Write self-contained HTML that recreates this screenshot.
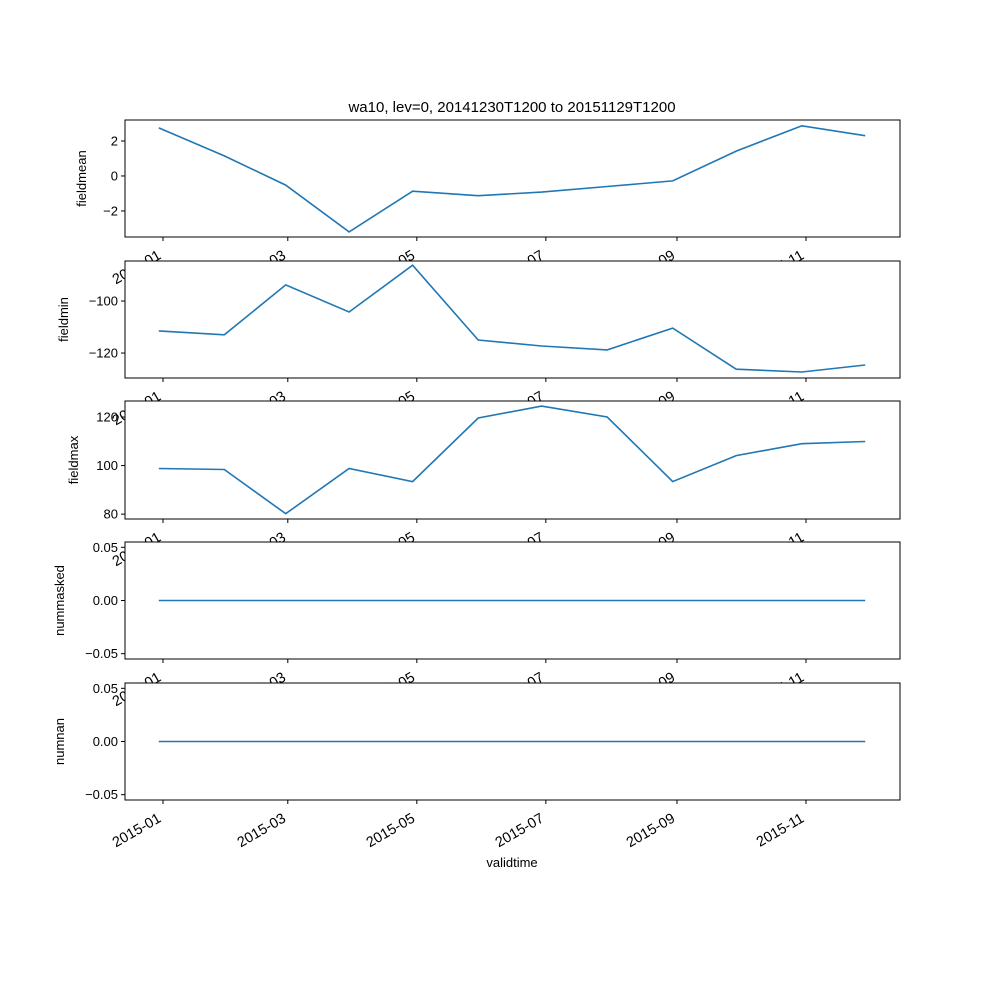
<!DOCTYPE html>
<html><head><meta charset="utf-8"><style>
html,body{margin:0;padding:0;background:#fff;}
svg{display:block;font-family:"Liberation Sans","DejaVu Sans",sans-serif;}
</style></head><body>
<svg id="chart" width="1000" height="1000" viewBox="0 0 1000 1000" xmlns="http://www.w3.org/2000/svg">
<rect width="1000" height="1000" fill="#fff"/>
<text x="512" y="112" font-size="15" text-anchor="middle">wa10, lev=0, 20141230T1200 to 20151129T1200</text>
<text x="512" y="867" font-size="13" text-anchor="middle">validtime</text>
</svg>
<script>
const dates = ["2014-12-30","2015-01-30","2015-02-28","2015-03-30","2015-04-29","2015-05-30","2015-06-29","2015-07-30","2015-08-30","2015-09-29","2015-10-30","2015-11-29"];
const fieldmean = [2.75,1.15,-0.52,-3.2,-0.87,-1.13,-0.92,-0.6,-0.28,1.42,2.87,2.3];
const fieldmin = [-111.5,-113,-93.8,-104.2,-86.2,-115,-117.3,-118.8,-110.4,-126.2,-127.3,-124.6];
const fieldmax = [98.8,98.4,80.2,98.8,93.4,119.6,124.5,120,93.4,104.1,109,109.9];
const nummasked = [0,0,0,0,0,0,0,0,0,0,0,0];
const numnan = [0,0,0,0,0,0,0,0,0,0,0,0];
const xTickLabels = ["2015-01","2015-03","2015-05","2015-07","2015-09","2015-11"];
const ticksMean = [2,0,-2];
const ticksMin = [-100,-120];
const ticksMax = [120,100,80];
const ticksZero = [0.05,0,-0.05];

const svg = document.getElementById('chart');
const NS = 'http://www.w3.org/2000/svg';
const L = 125, R = 900;
const day0 = Date.UTC(2015,0,1);
function dayOf(s){const p=s.split('-').map(Number);return (Date.UTC(p[0],p[1]-1,p[2]||1)-day0)/86400000;}
const d1 = dayOf("2015-11-01");
function xs(s){return 163 + dayOf(s)*(806-163)/d1;}
function mk(tag, attrs){const e=document.createElementNS(NS,tag);for(const k in attrs)e.setAttribute(k,attrs[k]);svg.appendChild(e);return e;}

const panels = [
 {name:'fieldmean', data:fieldmean, ticks:ticksMean, top:120, bot:237, lo:-3.49, hi:3.2, fmt:v=>String(v).replace('-','\u2212'), ylx:86},
 {name:'fieldmin', data:fieldmin, ticks:ticksMin, top:261, bot:378, lo:-129.6, hi:-84.6, fmt:v=>String(v).replace('-','\u2212'), ylx:68},
 {name:'fieldmax', data:fieldmax, ticks:ticksMax, top:401, bot:519, lo:78, hi:126.6, fmt:v=>String(v), ylx:78},
 {name:'nummasked', data:nummasked, ticks:ticksZero, top:542, bot:659, lo:-0.055, hi:0.055, fmt:v=>v.toFixed(2).replace('-','\u2212'), ylx:64},
 {name:'numnan', data:numnan, ticks:ticksZero, top:683, bot:800, lo:-0.055, hi:0.055, fmt:v=>v.toFixed(2).replace('-','\u2212'), ylx:64}
];

panels.forEach(p=>{
  const ys = v => p.bot - (v-p.lo)/(p.hi-p.lo)*(p.bot-p.top);
  const bg = mk('rect',{x:L,y:p.top,width:R-L,height:p.bot-p.top,fill:'#fff'});
  
  
  const pts = p.data.map((v,i)=>xs(dates[i]).toFixed(1)+','+ys(v).toFixed(1)).join(' ');
  const line = mk('polyline',{points:pts,fill:'none',stroke:'#1f77b4','stroke-width':1.6});
  
  
  const fr = mk('rect',{x:L,y:p.top,width:R-L,height:p.bot-p.top,fill:'none',stroke:'#000','stroke-width':1});
  
  
  p.ticks.forEach(t=>{
    const y = ys(t);
    mk('line',{x1:L-4,x2:L,y1:y,y2:y,stroke:'#000'});
    const tx = mk('text',{x:L-7,y:y+4.5,'font-size':13,'text-anchor':'end'});
    tx.textContent = p.fmt(t);
    
    
  });
  xTickLabels.forEach(s=>{
    const x = xs(s);
    mk('line',{x1:x,x2:x,y1:p.bot,y2:p.bot+4,stroke:'#000'});
    const tx = mk('text',{x:0,y:0,'font-size':14.5,'text-anchor':'end',transform:'translate('+(x-1)+','+(p.bot+21)+') rotate(-30)'});
    tx.textContent = s;
    
    
  });
  const cy = (p.top+p.bot)/2;
  const yl = mk('text',{x:0,y:0,'font-size':13,'text-anchor':'middle',transform:'translate('+p.ylx+','+cy+') rotate(-90)'});
  yl.textContent = p.name;
  
  
});
</script>
</body></html>
